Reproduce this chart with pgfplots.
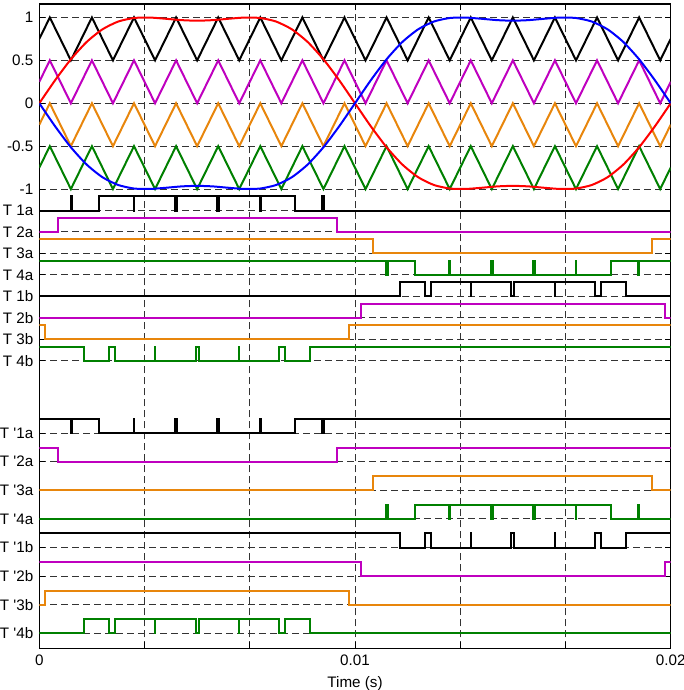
\documentclass[border=0pt]{standalone}
\usepackage{fontspec}
\setmainfont{Liberation Sans}
\usepackage{pgfplots}
\pgfplotsset{compat=1.18}
\usepackage{pgfplotstable}

\definecolor{cmag}{HTML}{BF00BF}
\definecolor{corg}{HTML}{E8860C}
\definecolor{cgrn}{HTML}{008000}
\definecolor{cred}{HTML}{FF0000}
\definecolor{cblu}{HTML}{0000FF}

% carriers (PD, 750 Hz)
\pgfplotstableread{
t k m o g
0        0.75 0.25 -0.25 -0.75
0.000333 1    0.5   0    -0.5
0.001    0.5  0    -0.5  -1
0.001667 1    0.5   0    -0.5
0.002333 0.5  0    -0.5  -1
0.003    1    0.5   0    -0.5
0.003667 0.5  0    -0.5  -1
0.004333 1    0.5   0    -0.5
0.005    0.5  0    -0.5  -1
0.005667 1    0.5   0    -0.5
0.006333 0.5  0    -0.5  -1
0.007    1    0.5   0    -0.5
0.007667 0.5  0    -0.5  -1
0.008333 1    0.5   0    -0.5
0.009    0.5  0    -0.5  -1
0.009667 1    0.5   0    -0.5
0.010333 0.5  0    -0.5  -1
0.011    1    0.5   0    -0.5
0.011667 0.5  0    -0.5  -1
0.012333 1    0.5   0    -0.5
0.013    0.5  0    -0.5  -1
0.013667 1    0.5   0    -0.5
0.014333 0.5  0    -0.5  -1
0.015    1    0.5   0    -0.5
0.015667 0.5  0    -0.5  -1
0.016333 1    0.5   0    -0.5
0.017    0.5  0    -0.5  -1
0.017667 1    0.5   0    -0.5
0.018333 0.5  0    -0.5  -1
0.019    1    0.5   0    -0.5
0.019667 0.5  0    -0.5  -1
0.02     0.75 0.25 -0.25 -0.75
}\carriers

% references
\pgfplotstableread{
t r b
0      0      0
0.0005 0.2680 -0.2680
0.0010 0.5125 -0.5125
0.0015 0.7143 -0.7143
0.0020 0.8618 -0.8618
0.0025 0.9526 -0.9526
0.0030 0.9936 -0.9936
0.0035 0.9988 -0.9988
0.0040 0.9851 -0.9851
0.0045 0.9690 -0.9690
0.0050 0.9623 -0.9623
0.0055 0.9690 -0.9690
0.0060 0.9851 -0.9851
0.0065 0.9988 -0.9988
0.0070 0.9936 -0.9936
0.0075 0.9526 -0.9526
0.0080 0.8618 -0.8618
0.0085 0.7143 -0.7143
0.0090 0.5125 -0.5125
0.0095 0.2680 -0.2680
0.0100 0      0
0.0105 -0.2680 0.2680
0.0110 -0.5125 0.5125
0.0115 -0.7143 0.7143
0.0120 -0.8618 0.8618
0.0125 -0.9526 0.9526
0.0130 -0.9936 0.9936
0.0135 -0.9988 0.9988
0.0140 -0.9851 0.9851
0.0145 -0.9690 0.9690
0.0150 -0.9623 0.9623
0.0155 -0.9690 0.9690
0.0160 -0.9851 0.9851
0.0165 -0.9988 0.9988
0.0170 -0.9936 0.9936
0.0175 -0.9526 0.9526
0.0180 -0.8618 0.8618
0.0185 -0.7143 0.7143
0.0190 -0.5125 0.5125
0.0195 -0.2680 0.2680
0.0200 0      0
}\refs

% gate signals (switching instant, state)
\pgfplotstableread{
t s
0        0
0.000990 1
0.001042 0
0.001888 1
0.002991 0
0.003008 1
0.004300 0
0.004370 1
0.005630 0
0.005700 1
0.006992 0
0.007009 1
0.008112 0
0.008958 1
0.009010 0
0.02     0
}\Tonea
\pgfplotstableread{
t s
0        0
0.000585 1
0.009415 0
0.02     0
}\Ttwoa
\pgfplotstableread{
t s
0        1
0.010585 0
0.019415 1
0.02     1
}\Tthreea
\pgfplotstableread{
t s
0        1
0.010990 0
0.011042 1
0.011888 0
0.012991 1
0.013008 0
0.014300 1
0.014370 0
0.015630 1
0.015700 0
0.016992 1
0.017009 0
0.018112 1
0.018958 0
0.019010 1
0.02     1
}\Tfoura
\pgfplotstableread{
t s
0        0
0.011420 1
0.012207 0
0.012412 1
0.013661 0
0.013673 1
0.014950 0
0.015050 1
0.016327 0
0.016339 1
0.017588 0
0.017793 1
0.018580 0
0.02     0
}\Toneb
\pgfplotstableread{
t s
0        0
0.010193 1
0.019807 0
0.02     0
}\Ttwob
\pgfplotstableread{
t s
0        1
0.000193 0
0.009807 1
0.02     1
}\Tthreeb
\pgfplotstableread{
t s
0        1
0.001420 0
0.002207 1
0.002412 0
0.003661 1
0.003673 0
0.004950 1
0.005050 0
0.006327 1
0.006339 0
0.007588 1
0.007793 0
0.008580 1
0.02     1
}\Tfourb

\begin{document}
\begin{tikzpicture}
\begin{axis}[
  scale only axis, width=315.7pt, height=322.15pt,
  xmin=0, xmax=0.02, ymin=-6.352, ymax=1.157,
  scaled x ticks=false, scaled y ticks=false,
  xtick={0,0.0033333,0.0066667,0.01,0.0133333,0.0166667,0.02},
  xticklabels={0,{},{},0.01,{},{},0.02},
  ytick={-6.178,-5.845,-5.512,-5.178,-4.845,-4.512,-4.178,-3.845,-3,-2.75,-2.5,-2.25,-2,-1.75,-1.5,-1.25,-1,-0.5,0,0.5,1},
  yticklabels={T \textquotesingle4b,T \textquotesingle3b,T \textquotesingle2b,T \textquotesingle1b,T \textquotesingle4a,T \textquotesingle3a,T \textquotesingle2a,T \textquotesingle1a,T 4b,T 3b,T 2b,T 1b,T 4a,T 3a,T 2a,T 1a,-1,-0.5,0,0.5,1},
  grid=major,
  major grid style={black!80, dash pattern=on 3.5pt off 2pt, line width=0.5pt},
  tick align=inside, major tick length=3pt,
  tick style={black, line width=0.5pt},
  axis line style={line width=0.6pt},
  ticklabel style={font=\fontsize{7.6}{8}\selectfont},
  yticklabel style={xshift=0.5pt},
  xlabel={Time (s)},
  xlabel style={font=\fontsize{7.6}{8}\selectfont, yshift=1.5pt},
  every axis plot/.append style={line width=1pt},
]
\coordinate (bl) at (rel axis cs:0,0);
\coordinate (tr) at (rel axis cs:1,1);
\addplot[black]  table[x=t,y=k] {\carriers};
\addplot[cmag]   table[x=t,y=m] {\carriers};
\addplot[corg]   table[x=t,y=o] {\carriers};
\addplot[cgrn]   table[x=t,y=g] {\carriers};
\addplot[cred, smooth, tension=0.4]  table[x=t,y=r] {\refs};
\addplot[cblu, smooth, tension=0.4]  table[x=t,y=b] {\refs};

\addplot[black, const plot] table[x=t,y expr={-1.25+0.165*\thisrow{s}}] {\Tonea};
\addplot[cmag,  const plot] table[x=t,y expr={-1.5+0.165*\thisrow{s}}] {\Ttwoa};
\addplot[corg,  const plot] table[x=t,y expr={-1.75+0.165*\thisrow{s}}] {\Tthreea};
\addplot[cgrn,  const plot] table[x=t,y expr={-2+0.165*\thisrow{s}}] {\Tfoura};
\addplot[black, const plot] table[x=t,y expr={-2.25+0.165*\thisrow{s}}] {\Toneb};
\addplot[cmag,  const plot] table[x=t,y expr={-2.5+0.165*\thisrow{s}}] {\Ttwob};
\addplot[corg,  const plot] table[x=t,y expr={-2.75+0.165*\thisrow{s}}] {\Tthreeb};
\addplot[cgrn,  const plot] table[x=t,y expr={-3+0.165*\thisrow{s}}] {\Tfourb};

\addplot[black, const plot] table[x=t,y expr={-3.845+0.165*(1-\thisrow{s})}] {\Tonea};
\addplot[cmag,  const plot] table[x=t,y expr={-4.178+0.165*(1-\thisrow{s})}] {\Ttwoa};
\addplot[corg,  const plot] table[x=t,y expr={-4.512+0.165*(1-\thisrow{s})}] {\Tthreea};
\addplot[cgrn,  const plot] table[x=t,y expr={-4.845+0.165*(1-\thisrow{s})}] {\Tfoura};
\addplot[black, const plot] table[x=t,y expr={-5.178+0.165*(1-\thisrow{s})}] {\Toneb};
\addplot[cmag,  const plot] table[x=t,y expr={-5.512+0.165*(1-\thisrow{s})}] {\Ttwob};
\addplot[corg,  const plot] table[x=t,y expr={-5.845+0.165*(1-\thisrow{s})}] {\Tthreeb};
\addplot[cgrn,  const plot] table[x=t,y expr={-6.178+0.165*(1-\thisrow{s})}] {\Tfourb};
\end{axis}
\pgfresetboundingbox
\path[use as bounding box] ([xshift=-19.65pt,yshift=-20.85pt]bl) rectangle ([xshift=6.65pt,yshift=2pt]tr);
\end{tikzpicture}
\end{document}
